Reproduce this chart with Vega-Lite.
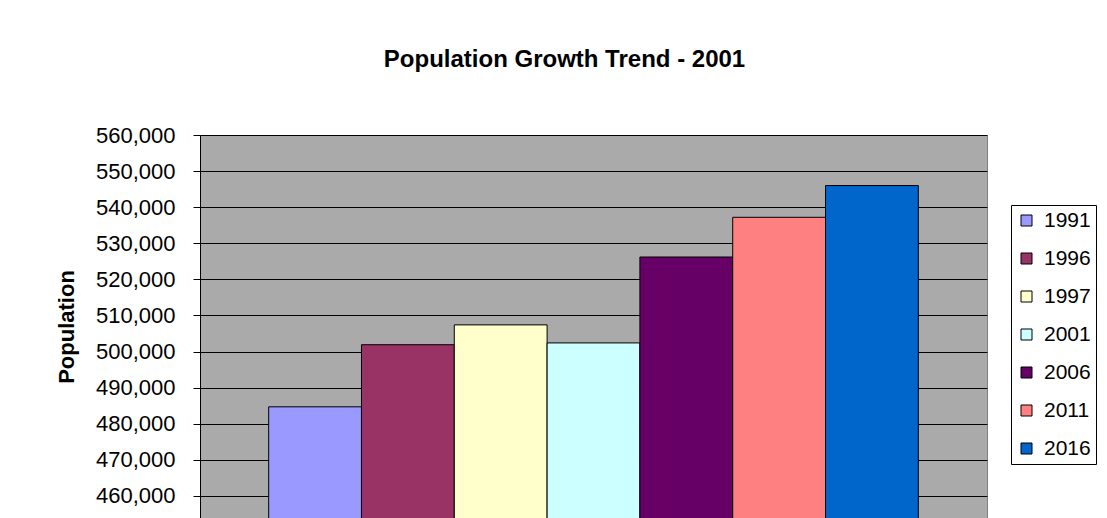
{
  "$schema": "https://vega.github.io/schema/vega-lite/v6.json",
  "autosize": {"type": "none"},
  "width": 787,
  "height": 383,
  "padding": {"left": 200, "top": 135, "right": 120, "bottom": 0},
  "background": "white",
  "title": {
    "text": "Population Growth Trend - 2001",
    "font": "Liberation Sans",
    "fontSize": 24,
    "fontWeight": "bold",
    "color": "black",
    "anchor": "middle",
    "dx": -29,
    "offset": 52
  },
  "data": {
    "values": [
      {"year": "1991", "population": 484700},
      {"year": "1996", "population": 501900},
      {"year": "1997", "population": 507400},
      {"year": "2001", "population": 502400},
      {"year": "2006", "population": 526200},
      {"year": "2011", "population": 537200},
      {"year": "2016", "population": 546000}
    ]
  },
  "mark": {"type": "bar", "stroke": "black", "strokeWidth": 1, "clip": true},
  "encoding": {
    "x": {
      "field": "year",
      "type": "nominal",
      "scale": {"paddingInner": 0, "paddingOuter": 0.74},
      "axis": null
    },
    "y": {
      "field": "population",
      "type": "quantitative",
      "title": "Population",
      "scale": {"domain": [453900, 560000], "nice": false, "zero": false},
      "axis": {
        "values": [460000, 470000, 480000, 490000, 500000, 510000, 520000, 530000, 540000, 550000, 560000],
        "format": ",d",
        "labelFont": "Liberation Sans",
        "labelFontSize": 22,
        "labelColor": "black",
        "labelPadding": 18,
        "tickSize": 7,
        "tickColor": "black",
        "domainColor": "black",
        "gridColor": "black",
        "gridWidth": 1,
        "titleFont": "Liberation Sans",
        "titleFontSize": 22,
        "titleFontWeight": "bold",
        "titleColor": "black",
        "titlePadding": 17
      }
    },
    "color": {
      "field": "year",
      "type": "nominal",
      "scale": {
        "domain": ["1991", "1996", "1997", "2001", "2006", "2011", "2016"],
        "range": ["#9999FF", "#993366", "#FFFFCC", "#CCFFFF", "#660066", "#FF8080", "#0066CC"]
      },
      "legend": {
        "title": null,
        "orient": "none",
        "legendX": 811,
        "legendY": 70,
        "symbolType": "square",
        "symbolSize": 121,
        "symbolStrokeColor": "black",
        "symbolStrokeWidth": 1,
        "labelFont": "Liberation Sans",
        "labelFontSize": 21,
        "labelColor": "black",
        "labelOffset": 7,
        "rowPadding": 16,
        "strokeColor": "black",
        "padding": 5
      }
    }
  },
  "config": {
    "view": {"fill": "#AAAAAA", "stroke": "#808080", "strokeWidth": 1}
  }
}
